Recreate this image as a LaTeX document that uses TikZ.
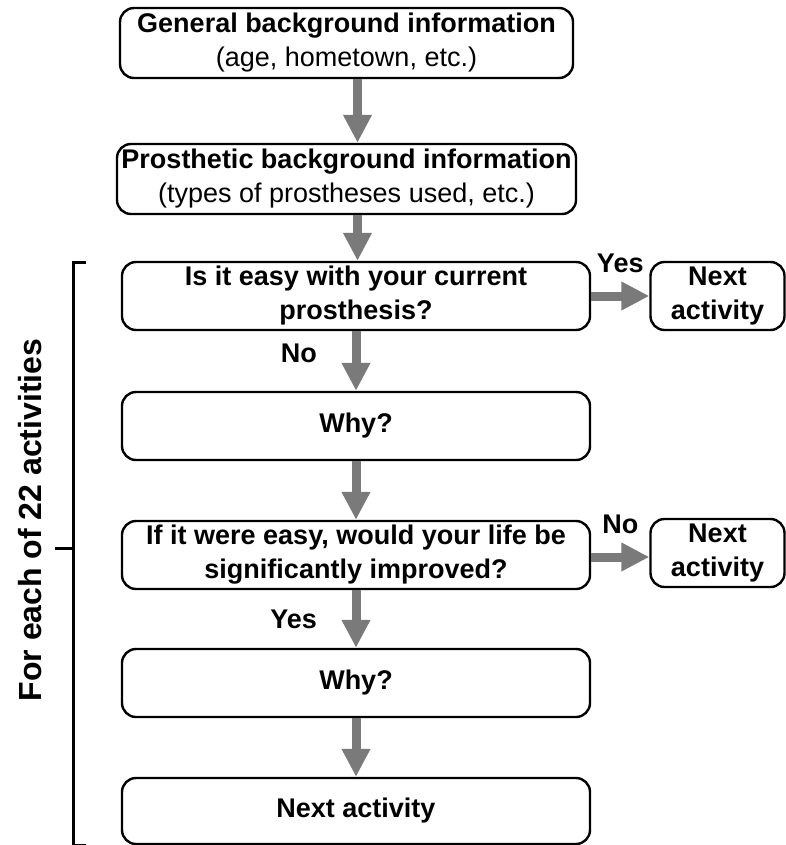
\documentclass[tikz,border=0pt]{standalone}
\usepackage{fontspec}
\setmainfont{Liberation Sans}
\usetikzlibrary{arrows.meta,shapes}

\definecolor{flowgray}{HTML}{7A7A7A}

\tikzset{
    box/.style={draw, line width=1.2pt, rounded corners=7pt, align=center,
        minimum width=234pt, minimum height=34pt, inner sep=1pt,
        font=\fontsize{13.5}{17}\selectfont},
    nextbox/.style={box, minimum width=67pt},
    flow/.style={line width=4.5pt, draw=flowgray,
        -{Triangle[length=14pt,width=13.5pt]}},
    answer/.style={font=\fontsize{13.5}{17}\selectfont\bfseries}
}

\begin{document}
\begin{tikzpicture}[x=0.5pt, y=-0.5pt]
\useasboundingbox (0,0) rectangle (786,845);
% main column
    \node[box, minimum width=226.5pt, minimum height=35pt] (general) at (346.5,43)
        {\textbf{General background information}\\(age, hometown, etc.)};
    \node[box, minimum width=229.5pt, minimum height=35pt] (prosthetic) at (346.5,179)
        {\textbf{Prosthetic background information}\\(types of prostheses used, etc.)};
    \node[box] (easy) at (356,296) {\textbf{Is it easy with your current}\\\textbf{prosthesis?}};
    \node[box] (why_one) at (356,426) {\textbf{Why?}};
    \node[box] (improved) at (356,555) {\textbf{If it were easy, would your life be}\\\textbf{significantly improved?}};
    \node[box] (why_two) at (356,683) {\textbf{Why?}};
    \node[box, minimum height=33pt] (next_end) at (356,811) {\textbf{Next activity}};

    % side exits
    \node[nextbox] (next_easy) at (717.5,296) {\textbf{Next}\\\textbf{activity}};
    \node[nextbox] (next_improved) at (717.5,553) {\textbf{Next}\\\textbf{activity}};

    % arrows down the column
    \draw[flow] ([xshift=5.5pt]general.south) -- ([xshift=5.5pt]general.south |- prosthetic.north);
    \draw[flow] ([xshift=5.5pt]prosthetic.south) -- ([xshift=5.5pt]prosthetic.south |- easy.north);
    \draw[flow] (easy.south) -- (why_one.north) node[midway, left=14pt, yshift=4pt, answer] {No};
    \draw[flow] (why_one.south) -- (improved.north);
    \draw[flow] (improved.south) -- (why_two.north) node[midway, left=14pt, answer] {Yes};
    \draw[flow] (why_two.south) -- (next_end.north);

    % arrows to the right
    \draw[flow] (easy.east) -- (next_easy.west) node[midway, above=6pt, answer] {Yes};
    \draw[flow] ([yshift=-1pt]improved.east) -- ([yshift=-1pt]improved.east -| next_improved.west) node[midway, above=6pt, answer] {No};

    % bracket over the repeated part
    \coordinate (bracket_top) at (86,262);
    \coordinate (bracket_bottom) at (86,845);
    \coordinate (bracket_tip) at (55,548);
    \draw[line width=1.5pt] (bracket_top) -| (73,548) |- (bracket_bottom);
    \draw[line width=1.5pt] (bracket_tip) -- (73,548);
    \node[rotate=90, font=\fontsize{16}{19}\selectfont\bfseries] (label) at (30,520) {For each of 22 activities};
\end{tikzpicture}
\end{document}
